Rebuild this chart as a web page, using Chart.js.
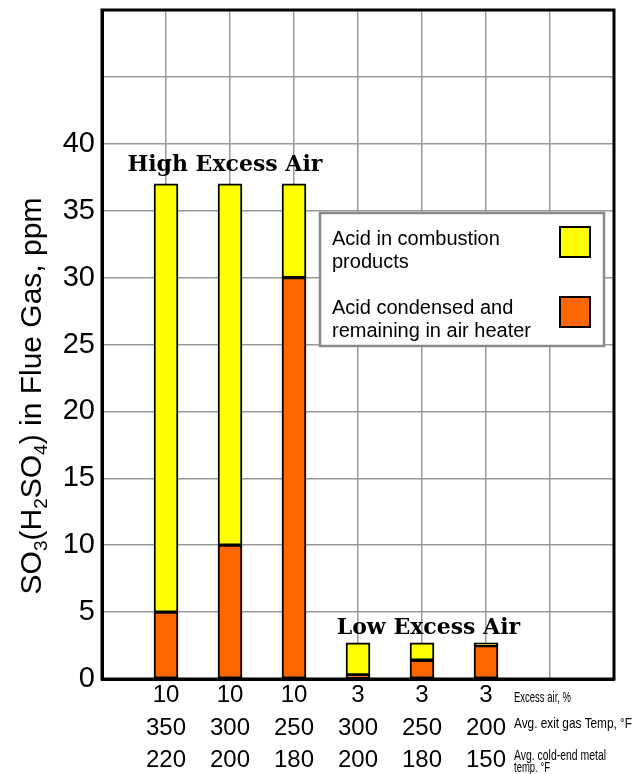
<!DOCTYPE html>
<html>
<head>
<meta charset="utf-8">
<script src="https://cdn.jsdelivr.net/npm/chart.js@4.4.1/dist/chart.umd.min.js"></script>
<style>
  body { margin: 0; background: #fff; }
</style>
</head>
<body>
<canvas id="so3-chart" width="636" height="774"></canvas>
<script>
// Data
const excessAir = ['10', '10', '10', '3', '3', '3'];
const exitGasTemp = ['350', '300', '250', '300', '250', '200'];
const metalTemp = ['220', '200', '180', '200', '180', '150'];
const condensed = [5, 10, 30, 0.3, 1.4, 2.5];
const combustion = [32, 27, 7, 2.4, 1.3, 0.2];
const rowTitles = ['Excess air, %', 'Avg. exit gas Temp, °F', 'Avg. cold-end metal', 'temp. °F'];
const yTicksShown = 40;

// one empty slot before the bars, two after
const labels = [['', '', '']];
excessAir.forEach((v, i) => labels.push([v, exitGasTemp[i], metalTemp[i]]));
labels.push(['', '', ''], ['', '', '']);
const pad = arr => [null, ...arr, null, null];

const YELLOW = '#ffff00';
const ORANGE = '#ff6600';

const framePlugin = {
  id: 'frame',
  afterDraw(chart) {
    const ctx = chart.ctx;
    const a = chart.chartArea;
    const x = chart.scales.x;
    const y = chart.scales.y;
    ctx.save();

    // outer frame
    ctx.strokeStyle = '#000';
    ctx.lineWidth = 3;
    ctx.strokeRect(a.left, a.top, a.right - a.left, a.bottom - a.top);

    // group titles
    ctx.fillStyle = '#000';
    ctx.font = 'bold 22px "DejaVu Serif"';
    ctx.textAlign = 'center';
    ctx.textBaseline = 'alphabetic';
    ctx.fillText('High Excess Air', x.getPixelForValue(1.92), y.getPixelForValue(38));
    ctx.fillText('Low Excess Air', x.getPixelForValue(5.1), y.getPixelForValue(3.4));

    // legend
    const lx = 320, ly = 213, lw = 284, lh = 133;
    ctx.fillStyle = '#fff';
    ctx.fillRect(lx, ly, lw, lh);
    ctx.strokeStyle = '#8a8a8a';
    ctx.lineWidth = 2.5;
    ctx.strokeRect(lx, ly, lw, lh);
    ctx.font = '20px "Liberation Sans"';
    ctx.textAlign = 'left';
    ctx.textBaseline = 'middle';
    ctx.fillStyle = '#000';
    ctx.fillText('Acid in combustion', 332, 239);
    ctx.fillText('products', 332, 262);
    ctx.fillText('Acid condensed and', 332, 308);
    ctx.fillText('remaining in air heater', 332, 331);
    ctx.lineWidth = 2;
    ctx.strokeStyle = '#000';
    ctx.fillStyle = chart.data.datasets[1].backgroundColor;
    ctx.fillRect(560, 227, 30, 30);
    ctx.strokeRect(560, 227, 30, 30);
    ctx.fillStyle = chart.data.datasets[0].backgroundColor;
    ctx.fillRect(560, 297, 30, 30);
    ctx.strokeRect(560, 297, 30, 30);

    // row titles for the x labels
    ctx.fillStyle = '#000';
    ctx.font = '15px "Liberation Sans"';
    ctx.fillText(rowTitles[0], 514, 698, 57);
    ctx.fillText(rowTitles[1], 514, 724, 118);
    ctx.fillText(rowTitles[2], 514, 756, 92);
    ctx.fillText(rowTitles[3], 514, 768, 36);

    // y axis title with subscripts
    ctx.translate(33, 396);
    ctx.rotate(-Math.PI / 2);
    const big = '30px "Liberation Sans"';
    const small = '19px "Liberation Sans"';
    const parts = [['SO', big, 0], ['3', small, 9], ['(H', big, 0], ['2', small, 9],
                   ['SO', big, 0], ['4', small, 9], [') in Flue Gas, ppm', big, 0]];
    let total = 0;
    parts.forEach(p => { ctx.font = p[1]; total += ctx.measureText(p[0]).width; });
    let cx = -total / 2;
    ctx.textAlign = 'left';
    parts.forEach(p => {
      ctx.font = p[1];
      ctx.fillText(p[0], cx, p[2]);
      cx += ctx.measureText(p[0]).width;
    });
    ctx.restore();
  }
};

new Chart(document.getElementById('so3-chart'), {
  type: 'bar',
  data: {
    labels: labels,
    datasets: [
      { label: 'Acid condensed and remaining in air heater', data: pad(condensed),
        backgroundColor: ORANGE, borderColor: '#000', borderWidth: 2, borderSkipped: false },
      { label: 'Acid in combustion products', data: pad(combustion),
        backgroundColor: YELLOW, borderColor: '#000', borderWidth: 2, borderSkipped: false }
    ]
  },
  options: {
    responsive: false,
    animation: false,
    layout: { padding: { top: 10, right: 22, left: 0, bottom: 0 } },
    datasets: { bar: { barThickness: 24 } },
    plugins: { legend: { display: false }, tooltip: { enabled: false } },
    scales: {
      x: {
        stacked: true,
        offset: false,
        grid: { color: '#9a9a9a', lineWidth: 1.5, drawTicks: false, offset: false },
        border: { color: '#000', width: 3 },
        ticks: {
          color: '#000', padding: 0, maxRotation: 0, autoSkip: false,
          font: { family: 'Liberation Sans', size: 24, lineHeight: 1.36 }
        },
        afterFit(scale) { scale.height = 95; }
      },
      y: {
        stacked: true,
        min: 0, max: 50,
        grid: { color: '#9a9a9a', lineWidth: 1.5, drawTicks: false },
        border: { color: '#000', width: 3 },
        ticks: {
          stepSize: 5, color: '#000', padding: 7,
          font: { family: 'Liberation Sans', size: 29 },
          callback: v => (v <= yTicksShown ? v : '')
        },
        afterFit(scale) {
          scale.width = 102;
          scale.paddingTop = 0;
        }
      }
    }
  },
  plugins: [framePlugin]
});
</script>
</body>
</html>
